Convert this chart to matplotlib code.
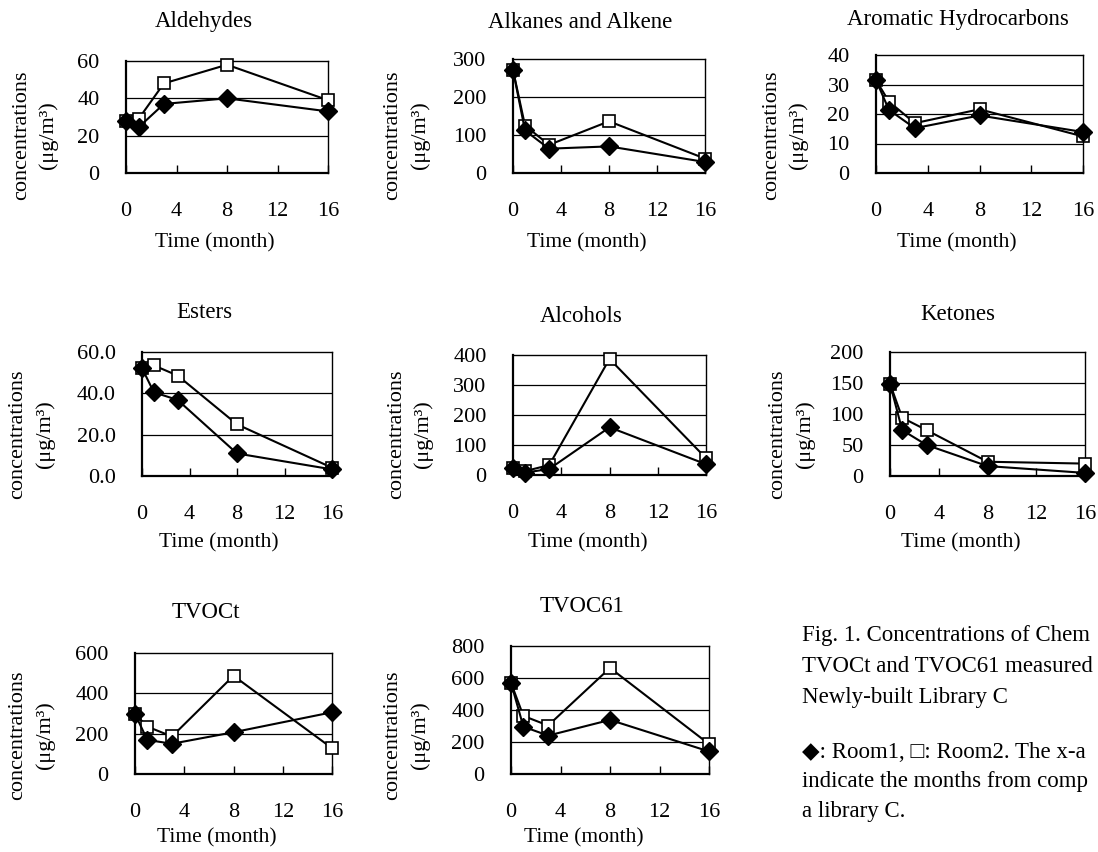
import matplotlib
matplotlib.use("Agg")
import matplotlib.pyplot as plt
import numpy as np

plt.rcParams['font.family'] = ['Liberation Serif', 'DejaVu Sans']

W, H = 1098, 852

months = [0, 1, 3, 8, 16]
x_ticks = [0, 4, 8, 12, 16]

titles = ["Aldehydes", "Alkanes and Alkene", "Aromatic Hydrocarbons",
          "Esters", "Alcohols", "Ketones", "TVOCt", "TVOC61"]

# Room1 (filled diamond) and Room2 (open square); both share the month-0 value
aldehydes_r1 = [28, 24.5, 37, 40, 33]
aldehydes_r2 = [28, 29, 48, 58, 39]
alkanes_r1 = [271, 112, 64, 70, 29]
alkanes_r2 = [271, 125, 74, 136, 38]
aromatic_r1 = [31.5, 21.4, 15.2, 19.5, 13.9]
aromatic_r2 = [31.5, 24.2, 16.9, 21.6, 12.4]
esters_r1 = [52.2, 40.5, 36.8, 10.9, 3.2]
esters_r2 = [52.2, 53.5, 48.6, 25, 4]
alcohols_r1 = [22, 8, 20, 159, 36]
alcohols_r2 = [22, 13, 33, 387, 56]
ketones_r1 = [149, 74, 50, 16, 5]
ketones_r2 = [149, 94, 74, 23, 20]
tvoct_r1 = [298, 169, 150, 207, 306]
tvoct_r2 = [298, 235, 186, 487, 128]
tvoc61_r1 = [570, 296, 240, 338, 141]
tvoc61_r2 = [570, 363, 303, 663, 187]

room1 = [aldehydes_r1, alkanes_r1, aromatic_r1, esters_r1, alcohols_r1,
         ketones_r1, tvoct_r1, tvoc61_r1]
room2 = [aldehydes_r2, alkanes_r2, aromatic_r2, esters_r2, alcohols_r2,
         ketones_r2, tvoct_r2, tvoc61_r2]

y_ticks = [[0, 20, 40, 60], [0, 100, 200, 300], [0, 10, 20, 30, 40],
           [0, 20, 40, 60], [0, 100, 200, 300, 400], [0, 50, 100, 150, 200],
           [0, 200, 400, 600], [0, 200, 400, 600, 800]]
y_fmt = ["%d", "%d", "%d", "%.1f", "%d", "%d", "%d", "%d"]

# axes boxes in pixels: left, top, right, bottom
boxes = [(126, 61, 328, 173), (513, 59, 705, 173), (876, 55, 1083, 173),
         (142, 352, 332, 476), (513, 355, 706, 475), (890, 352, 1085, 476),
         (135, 653, 332, 774), (511, 646, 709, 774)]
title_pos = [(204, 22), (580, 22), (958, 20), (204, 312), (581, 317),
             (958, 315), (206, 613), (582, 607)]
xlabel_pos = [(215, 243), (587, 243), (957, 243), (219, 543), (588, 543),
              (961, 543), (217, 838), (584, 838)]
ylabel_pos = [(22, 48, 135), (393, 420, 135), (772, 798, 135),
              (18, 45, 434), (397, 423, 434), (778, 805, 434),
              (18, 45, 735), (393, 420, 735)]

fig = plt.figure(figsize=(W / 100, H / 100), dpi=100)

for i in range(8):
    l, t, r, b = boxes[i]
    ax = fig.add_axes([l / W, 1 - b / H, (r - l) / W, (b - t) / H])
    ax.plot(months, room2[i], color='black', lw=1.5, marker='s', ms=9,
            mfc='white', mec='black', mew=1.2, zorder=3, clip_on=False)
    ax.plot(months, room1[i], color='black', lw=1.5, marker='D', ms=9,
            mfc='black', mec='black', zorder=4, clip_on=False)
    ax.set_xlim(0, 16)
    ax.set_ylim(y_ticks[i][0], y_ticks[i][-1])
    ax.set_xticks(x_ticks)
    ax.set_yticks(y_ticks[i])
    ax.set_yticklabels([y_fmt[i] % v for v in y_ticks[i]])
    for v in y_ticks[i][1:-1]:
        ax.axhline(v, color='black', lw=0.9, zorder=1)
    ax.tick_params(axis='x', direction='in', length=6, width=1, pad=21,
                   labelsize=16)
    ax.tick_params(axis='y', length=0, pad=19, labelsize=16)
    for s in ax.spines.values():
        s.set_linewidth(1)
    ax.spines['bottom'].set_linewidth(1.6)
    ax.spines['left'].set_linewidth(1.6)

    tx, ty = title_pos[i]
    fig.text(tx / W, 1 - ty / H, titles[i], ha='center', va='center', fontsize=16.5)
    xx, xy = xlabel_pos[i]
    fig.text(xx / W, 1 - xy / H, "Time (month)", ha='center', va='center',
             fontsize=15.5)
    c1, c2, cy = ylabel_pos[i]
    fig.text(c1 / W, 1 - cy / H, "concentrations", rotation=90, ha='center',
             va='center', fontsize=16)
    fig.text(c2 / W, 1 - cy / H, "(μg/m³)", rotation=90, ha='center',
             va='center', fontsize=16)

# caption as it shows up to the right edge of the page
caption = [
    (635, "Fig. 1. Concentrations of Chem"),
    (667, "TVOCt and TVOC61 measured"),
    (697, "Newly-built Library C"),
    (752, "◆: Room1, □: Room2. The x-a"),
    (782, "indicate the months from comp"),
    (812, "a library C."),
]
for cy, txt in caption:
    fig.text(802 / W, 1 - cy / H, txt, ha='left', va='center', fontsize=16.5)

fig.savefig("out.png", dpi=100)
